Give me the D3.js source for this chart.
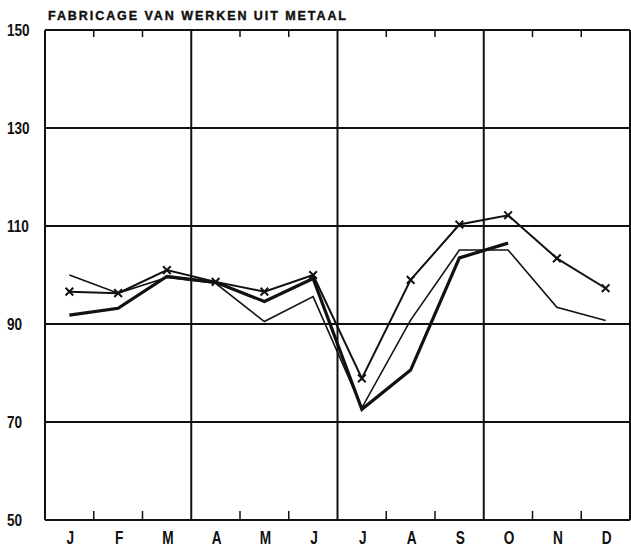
<!DOCTYPE html>
<html>
<head>
<meta charset="utf-8">
<script src="https://cdn.jsdelivr.net/npm/d3@7"></script>
<style>
  body { margin: 0; background: #fff; }
  text { font-family: "Liberation Sans", Arial, sans-serif; font-weight: bold; fill: #111; }
</style>
</head>
<body>
<svg id="vis" width="631" height="548"></svg>
<script>
// months along the bottom
var months = ['J', 'F', 'M', 'A', 'M', 'J', 'J', 'A', 'S', 'O', 'N', 'D'];
var yTicks = [50, 70, 90, 110, 130, 150];
var titleText = 'FABRICAGE VAN WERKEN UIT METAAL';

// three series
var thinSeries = [100, 96.3, 99.5, 98.3, 90.5, 95.6, 72.9, 90.8, 105.1, 105.1, 93.4, 90.7];
var markedSeries = [96.6, 96.3, 101, 98.6, 96.6, 100, 78.9, 99, 110.3, 112.2, 103.4, 97.3];
var thickSeries = [91.8, 93.2, 99.7, 98.5, 94.6, 99.3, 72.6, 80.6, 103.5, 106.5];

// note: "top" is a read-only window global, so use other names
var plotLeft = 45, plotRight = 630, plotTop = 30, plotBottom = 520;

var svg = d3.select('#vis');

var x = d3.scaleBand()
    .domain(d3.range(12))
    .range([plotLeft, plotRight]);

var y = d3.scaleLinear()
    .domain([50, 150])
    .range([plotBottom, plotTop]);

var xc = function (i) { return x(i) + x.bandwidth() / 2; };

// horizontal grid lines
svg.append('g').selectAll('line')
    .data(yTicks)
    .enter().append('line')
    .attr('x1', plotLeft).attr('x2', plotRight)
    .attr('y1', function (d) { return y(d); })
    .attr('y2', function (d) { return y(d); })
    .attr('stroke', '#111').attr('stroke-width', 2);

// quarter lines + frame sides
var quarters = [0, 3, 6, 9, 12];
svg.append('g').selectAll('line')
    .data(quarters)
    .enter().append('line')
    .attr('x1', function (d) { return d === 12 ? plotRight : x(d); })
    .attr('x2', function (d) { return d === 12 ? plotRight : x(d); })
    .attr('y1', plotTop).attr('y2', plotBottom)
    .attr('stroke', '#111').attr('stroke-width', 2);

// month ticks at top and bottom
var inner = d3.range(1, 12).filter(function (d) { return d % 3 !== 0; });
var ticks = svg.append('g');
inner.forEach(function (d) {
    ticks.append('line')
        .attr('x1', x(d)).attr('x2', x(d))
        .attr('y1', plotTop).attr('y2', plotTop + 7)
        .attr('stroke', '#111').attr('stroke-width', 1.5);
    ticks.append('line')
        .attr('x1', x(d)).attr('x2', x(d))
        .attr('y1', plotBottom).attr('y2', plotBottom - 9)
        .attr('stroke', '#111').attr('stroke-width', 1.5);
});

// y labels (left aligned in the scan)
svg.append('g').selectAll('text')
    .data(yTicks)
    .enter().append('text')
    .attr('x', 7)
    .attr('y', function (d) { return y(d) + 6; })
    .attr('font-size', 16)
    .attr('transform', function (d) { return 'translate(7,0) scale(0.85,1) translate(-7,0)'; })
    .text(function (d) { return d; });

// month labels, narrow lettering
svg.append('g').selectAll('text')
    .data(months)
    .enter().append('text')
    .attr('transform', function (d, i) { return 'translate(' + (xc(i) + 1) + ',544) scale(0.72,1)'; })
    .attr('text-anchor', 'middle')
    .attr('font-size', 19)
    .text(function (d) { return d; });

// title
svg.append('text')
    .attr('x', 48).attr('y', 20)
    .attr('font-size', 12.5)
    .attr('stroke', '#111').attr('stroke-width', 0.4)
    .attr('textLength', 298)
    .attr('lengthAdjust', 'spacing')
    .text(titleText);

var line = d3.line()
    .x(function (d, i) { return xc(i); })
    .y(function (d) { return y(d); });

svg.append('path').datum(thinSeries)
    .attr('d', line).attr('fill', 'none')
    .attr('stroke', '#111').attr('stroke-width', 1.6);

svg.append('path').datum(markedSeries)
    .attr('d', line).attr('fill', 'none')
    .attr('stroke', '#111').attr('stroke-width', 2);

svg.append('path').datum(thickSeries)
    .attr('d', line).attr('fill', 'none')
    .attr('stroke', '#111').attr('stroke-width', 3.2);

// x markers on the middle series
svg.append('g').selectAll('path')
    .data(markedSeries)
    .enter().append('path')
    .attr('transform', function (d, i) { return 'translate(' + xc(i) + ',' + y(d) + ')'; })
    .attr('d', d3.symbol().type(d3.symbolX).size(40))
    .attr('fill', 'none').attr('stroke', '#111').attr('stroke-width', 2);
</script>
</body>
</html>
